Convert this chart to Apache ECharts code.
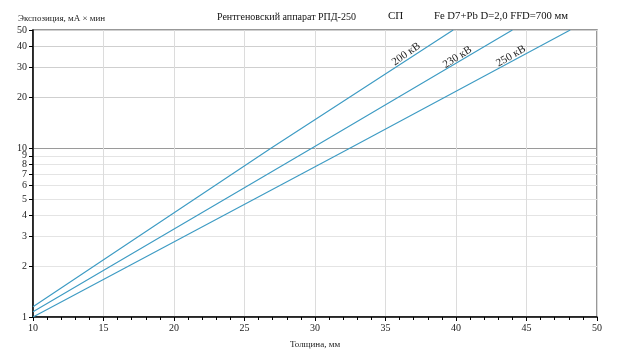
<!DOCTYPE html>
<html><head><meta charset="utf-8">
<script src="https://cdn.jsdelivr.net/npm/echarts@6/dist/echarts.min.js"></script>
<style>html,body{margin:0;padding:0;background:#fff}#c{width:624px;height:358px}</style>
</head><body><div id="c"></div>
<script>
// Data (thickness mm -> exposure mA·min)
const line200 = [[10, 1.15], [26.9, 10], [39.8, 50]];
const line230 = [[10, 1.075], [29.8, 10], [44.0, 50]];
const line250 = [[10, 1.0], [32.5, 10], [48.1, 50]];
const seriesNames = ['200 кВ', '230 кВ', '250 кВ'];
const yTicks = [1, 2, 3, 4, 5, 6, 7, 8, 9, 10, 20, 30, 40, 50];
const xTicks = [10, 15, 20, 25, 30, 35, 40, 45, 50];
const labelAnchors = [[36.47, 36.0], [40.1, 34.5], [43.9, 35.0]];
const labelAngles = [35, 32, 30];

const FONT = '"Liberation Serif", "Times New Roman", serif';
const LINE_COLOR = '#3f9cc4';
const yGridColors = yTicks.map(v => v === 10 ? '#9a9a9a' : (v >= 20 ? '#cfcfcf' : '#e4e4e4'));

const chart = echarts.init(document.getElementById('c'), null, {renderer: 'canvas'});
const datas = [line200, line230, line250];
chart.setOption({
  animation: false,
  backgroundColor: '#fff',
  title: [
    {text: 'Экспозиция, мА × мин', left: 13, top: 9, textStyle: {fontFamily: FONT, fontSize: 9, fontWeight: 'normal', color: '#222'}},
    {text: 'Рентгеновский аппарат РПД-250', left: 212, top: 7, textStyle: {fontFamily: FONT, fontSize: 10, fontWeight: 'normal', color: '#111'}},
    {text: 'СП', left: 383, top: 6, textStyle: {fontFamily: FONT, fontSize: 11, fontWeight: 'normal', color: '#111'}},
    {text: 'Fe D7+Pb D=2,0 FFD=700 мм', left: 429, top: 6, textStyle: {fontFamily: FONT, fontSize: 10.7, fontWeight: 'normal', color: '#111'}}
  ],
  grid: {left: 33, right: 27, top: 30, bottom: 41, show: true, borderColor: '#777', borderWidth: 1.5, outerBoundsMode: 'none', containLabel: false},
  xAxis: {
    type: 'value', min: 10, max: 50, interval: 5,
    name: 'Толщина, мм', nameLocation: 'middle', nameGap: 23,
    nameTextStyle: {fontFamily: FONT, fontSize: 9, color: '#222'},
    axisLine: {show: true, lineStyle: {color: '#000', width: 1.5}},
    axisTick: {show: true, length: 4, lineStyle: {color: '#000'}},
    minorTick: {show: true, splitNumber: 5, length: 3, lineStyle: {color: '#000'}},
    axisLabel: {fontFamily: FONT, fontSize: 10, color: '#222', margin: 6,
      customValues: xTicks},
    splitLine: {show: true, lineStyle: {color: '#dcdcdc', width: 1}}
  },
  yAxis: {
    type: 'log', logBase: 10, min: 1, max: 50,
    axisLine: {show: true, lineStyle: {color: '#000', width: 1.5}},
    axisTick: {show: true, length: 4, customValues: yTicks, lineStyle: {color: '#000'}},
    axisLabel: {fontFamily: FONT, fontSize: 10, color: '#222', margin: 6, customValues: yTicks,
      formatter: v => String(Math.round(v))},
    splitLine: {show: true, lineStyle: {color: yGridColors, width: 1}}
  },
  series: datas.map((d, i) => ({
    name: seriesNames[i],
    type: 'line',
    data: d,
    showSymbol: false,
    symbol: 'none',
    lineStyle: {color: LINE_COLOR, width: 1.2},
    markPoint: {
      symbol: 'circle', symbolSize: 0,
      data: [{coord: labelAnchors[i], value: seriesNames[i]}],
      label: {show: true, position: 'inside', formatter: seriesNames[i], rotate: labelAngles[i],
        fontFamily: FONT, fontSize: 11, color: '#222', align: 'center', verticalAlign: 'middle'}
    }
  }))
});
</script></body></html>
